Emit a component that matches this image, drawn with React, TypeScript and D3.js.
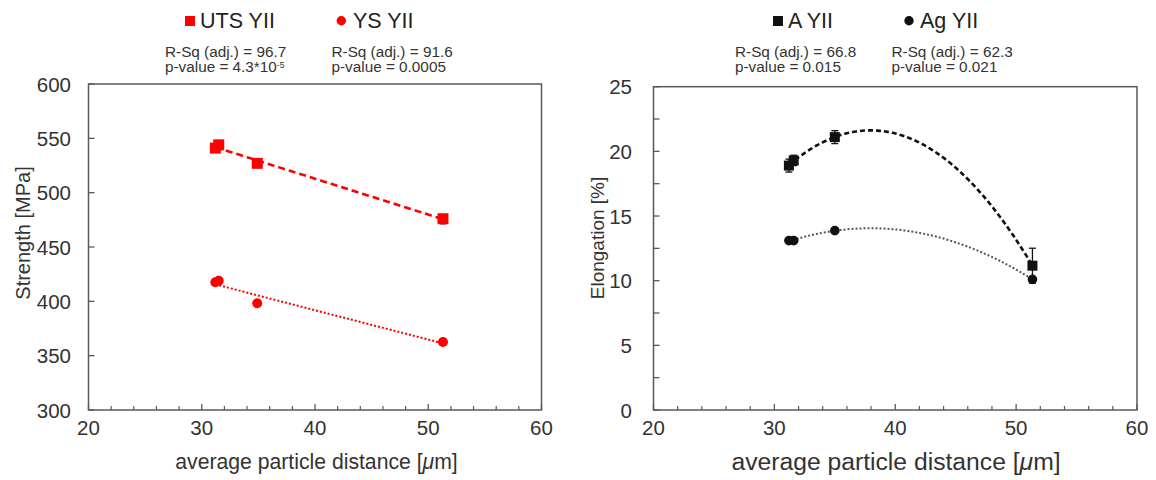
import React from 'react';
import * as d3 from 'd3';

// ---------- data ----------
const distanceS = [31.2, 31.5, 34.9, 51.3];
const utsValues = [541, 544, 527, 476];
const utsErrors = [2, 2, 2, 5];
const ysValues = [417.5, 419, 398.2, 362.6];

const distanceE = [31.2, 31.6, 35.0, 51.35];
const aValues = [18.9, 19.3, 21.1, 11.16];
const aErrors = [0.5, 0.4, 0.5, 1.35];
const agValues = [13.1, 13.1, 13.87, 10.1];

const xTicks = [20, 30, 40, 50, 60];
const strengthTicks = [300, 350, 400, 450, 500, 550, 600];
const elongTicks = [0, 5, 10, 15, 20, 25];

const FONT = '"Liberation Sans", Arial, sans-serif';
const RED = '#ff0000';
const FRAME = '#595959';
const TXT = '#333333';

function linFit(xs: number[], ys: number[]) {
  const mx = d3.mean(xs)!, my = d3.mean(ys)!;
  let sxy = 0, sxx = 0;
  xs.forEach((x, i) => { sxy += (x - mx) * (ys[i] - my); sxx += (x - mx) ** 2; });
  const b = sxy / sxx;
  return (x: number) => my + b * (x - mx);
}

function quadFit(xs: number[], ys: number[]) {
  const x0 = d3.mean(xs)!;
  const u = xs.map((x) => x - x0);
  const S = (p: number) => d3.sum(u, (v) => v ** p);
  const T = (p: number) => d3.sum(u, (v, i) => v ** p * ys[i]);
  const M = [
    [S(0), S(1), S(2), T(0)],
    [S(1), S(2), S(3), T(1)],
    [S(2), S(3), S(4), T(2)],
  ];
  for (let c = 0; c < 3; c++) {
    for (let r = c + 1; r < 3; r++) {
      const f = M[r][c] / M[c][c];
      for (let k = c; k < 4; k++) M[r][k] -= f * M[c][k];
    }
  }
  const sol = [0, 0, 0];
  for (let r = 2; r >= 0; r--) {
    let s = M[r][3];
    for (let k = r + 1; k < 3; k++) s -= M[r][k] * sol[k];
    sol[r] = s / M[r][r];
  }
  return (x: number) => sol[0] + sol[1] * (x - x0) + sol[2] * (x - x0) ** 2;
}

function sampleCurve(f: (x: number) => number, x0: number, x1: number) {
  const n = 80;
  return d3.range(n + 1).map((i) => {
    const x = x0 + ((x1 - x0) * i) / n;
    return [x, f(x)] as [number, number];
  });
}

type Scale = d3.ScaleLinear<number, number>;

function Frame({ x, y, yTicks, yMinor, tickFont, labelX }: {
  x: Scale; y: Scale; yTicks: number[]; yMinor: number[]; tickFont: number; labelX: number;
}) {
  const [x0, x1] = x.range();
  const [y0, y1] = y.range();
  const xMinor = d3.range(22, 60, 2).filter((v) => v % 10 !== 0);
  return (
    <g>
      <rect x={x0} y={y1} width={x1 - x0} height={y0 - y1} fill="none" stroke={FRAME} strokeWidth={1.5} />
      {xTicks.map((t) => (
        <g key={'xt' + t}>
          <line x1={x(t)} x2={x(t)} y1={y0} y2={y0 - 6} stroke={FRAME} strokeWidth={1.3} />
          <text x={x(t)} y={y0 + 17} textAnchor="middle" dominantBaseline="central" fontSize={tickFont} fill={TXT} fontFamily={FONT}>{t}</text>
        </g>
      ))}
      {xMinor.map((t) => (
        <line key={'xm' + t} x1={x(t)} x2={x(t)} y1={y0} y2={y0 - 4} stroke={FRAME} strokeWidth={1.2} />
      ))}
      {yTicks.map((t) => (
        <g key={'yt' + t}>
          <line x1={x0} x2={x0 + 6} y1={y(t)} y2={y(t)} stroke={FRAME} strokeWidth={1.3} />
          <text x={labelX} y={y(t)} textAnchor="end" dominantBaseline="central" fontSize={tickFont} fill={TXT} fontFamily={FONT}>{t}</text>
        </g>
      ))}
      {yMinor.map((t) => (
        <line key={'ym' + t} x1={x0} x2={x0 + 6} y1={y(t)} y2={y(t)} stroke={FRAME} strokeWidth={1.3} />
      ))}
    </g>
  );
}

export default function App() {
  // left panel scales
  const xL = d3.scaleLinear().domain([20, 60]).range([88.5, 541.5]);
  const yL = d3.scaleLinear().domain([300, 600]).range([410, 84]);
  // right panel scales
  const xR = d3.scaleLinear().domain([20, 60]).range([653.5, 1137]);
  const yR = d3.scaleLinear().domain([0, 25]).range([410, 86.7]);

  const utsFit = linFit(distanceS, utsValues);
  const ysFit = linFit(distanceS, ysValues);
  const aFit = quadFit(distanceE, aValues);
  const agFit = quadFit(distanceE, agValues);

  const [sMin, sMax] = d3.extent(distanceS) as [number, number];
  const [eMin, eMax] = d3.extent(distanceE) as [number, number];

  const lineL = d3.line<[number, number]>().x((d) => xL(d[0])).y((d) => yL(d[1]));
  const lineR = d3.line<[number, number]>().x((d) => xR(d[0])).y((d) => yR(d[1])).curve(d3.curveMonotoneX);

  const statFont = 15.3;
  const legFont = 21.5;
  const l1 = 56.5;
  const l2 = 72;

  return (
    <svg width={1156} height={480} style={{ position: 'absolute', left: 0, top: 0, background: '#fff' }} fontFamily={FONT}>
      <rect width={1156} height={480} fill="#fff" />

      {/* ----- left legend ----- */}
      <rect x={185} y={16} width={10} height={10} fill={RED} />
      <text x={200} y={27.5} fontSize={legFont} fill="#222">UTS YII</text>
      <circle cx={341.3} cy={20.7} r={4.7} fill={RED} />
      <text x={353} y={27.5} fontSize={legFont} fill="#222">YS YII</text>
      <text x={165} y={l1} fontSize={statFont} fill={TXT}>R-Sq (adj.) = 96.7</text>
      <text x={165} y={l2} fontSize={statFont} fill={TXT}>p-value = 4.3*10<tspan fontSize={8.5} dy={-4}>-5</tspan></text>
      <text x={331.5} y={l1} fontSize={statFont} fill={TXT}>R-Sq (adj.) = 91.6</text>
      <text x={331.5} y={l2} fontSize={statFont} fill={TXT}>p-value = 0.0005</text>

      {/* ----- right legend ----- */}
      <rect x={773} y={16} width={10} height={10} fill="#111" />
      <text x={788} y={27.5} fontSize={legFont} fill="#222">A YII</text>
      <circle cx={909} cy={20.7} r={4.7} fill="#111" />
      <text x={920} y={27.5} fontSize={legFont} fill="#222">Ag YII</text>
      <text x={735} y={l1} fontSize={statFont} fill={TXT}>R-Sq (adj.) = 66.8</text>
      <text x={735} y={l2} fontSize={statFont} fill={TXT}>p-value = 0.015</text>
      <text x={891.5} y={l1} fontSize={statFont} fill={TXT}>R-Sq (adj.) = 62.3</text>
      <text x={891.5} y={l2} fontSize={statFont} fill={TXT}>p-value = 0.021</text>

      {/* ----- left panel ----- */}
      <Frame x={xL} y={yL} yTicks={strengthTicks} yMinor={[]} tickFont={20.5} labelX={71} />
      <text transform="translate(23,233) rotate(-90)" textAnchor="middle" dominantBaseline="central" fontSize={20} fill={TXT}>Strength [MPa]</text>
      <text x={316.5} y={461} textAnchor="middle" dominantBaseline="central" fontSize={21.2} fill={TXT}>average particle distance [<tspan fontStyle="italic">μ</tspan>m]</text>

      <path d={lineL(sampleCurve(utsFit, sMin, sMax))!} fill="none" stroke={RED} strokeWidth={2.6} strokeDasharray="7 4" />
      <path d={lineL(sampleCurve(ysFit, sMin, sMax))!} fill="none" stroke={RED} strokeWidth={2} strokeDasharray="2 2" />
      {distanceS.map((d, i) => (
        <g key={'ue' + i} stroke="#666" strokeWidth={1}>
          <line x1={xL(d)} x2={xL(d)} y1={yL(utsValues[i] - utsErrors[i])} y2={yL(utsValues[i] + utsErrors[i])} />
          <line x1={xL(d) - 3} x2={xL(d) + 3} y1={yL(utsValues[i] - utsErrors[i])} y2={yL(utsValues[i] - utsErrors[i])} />
        </g>
      ))}
      {distanceS.map((d, i) => (
        <rect key={'us' + i} x={xL(d) - 5.5} y={yL(utsValues[i]) - 5.5} width={11} height={11} fill={RED} />
      ))}
      {distanceS.map((d, i) => (
        <circle key={'ys' + i} cx={xL(d)} cy={yL(ysValues[i])} r={5} fill={RED} />
      ))}

      {/* ----- right panel ----- */}
      <Frame x={xR} y={yR} yTicks={elongTicks} yMinor={[2.5, 7.5, 12.5, 17.5, 22.5]} tickFont={20.5} labelX={632} />
      <text transform="translate(597,238) rotate(-90)" textAnchor="middle" dominantBaseline="central" fontSize={19} fill={TXT}>Elongation [%]</text>
      <text x={896} y={461} textAnchor="middle" dominantBaseline="central" fontSize={24.7} fill={TXT}>average particle distance [<tspan fontStyle="italic">μ</tspan>m]</text>

      <path d={lineR(sampleCurve(aFit, eMin, eMax))!} fill="none" stroke="#111" strokeWidth={2.6} strokeDasharray="5 3" />
      <path d={lineR(sampleCurve(agFit, eMin, eMax))!} fill="none" stroke="#555" strokeWidth={2} strokeDasharray="2 2" />
      {distanceE.map((d, i) => (
        <g key={'ae' + i} stroke="#111" strokeWidth={1.3}>
          <line x1={xR(d)} x2={xR(d)} y1={yR(aValues[i] - aErrors[i])} y2={yR(aValues[i] + aErrors[i])} />
          <line x1={xR(d) - 3.5} x2={xR(d) + 3.5} y1={yR(aValues[i] + aErrors[i])} y2={yR(aValues[i] + aErrors[i])} />
          <line x1={xR(d) - 3.5} x2={xR(d) + 3.5} y1={yR(aValues[i] - aErrors[i])} y2={yR(aValues[i] - aErrors[i])} />
        </g>
      ))}
      {distanceE.map((d, i) => (
        <rect key={'as' + i} x={xR(d) - 5} y={yR(aValues[i]) - 5} width={10} height={10} fill="#111" />
      ))}
      {distanceE.map((d, i) => (
        <circle key={'ag' + i} cx={xR(d)} cy={yR(agValues[i])} r={4.8} fill="#111" />
      ))}
    </svg>
  );
}
